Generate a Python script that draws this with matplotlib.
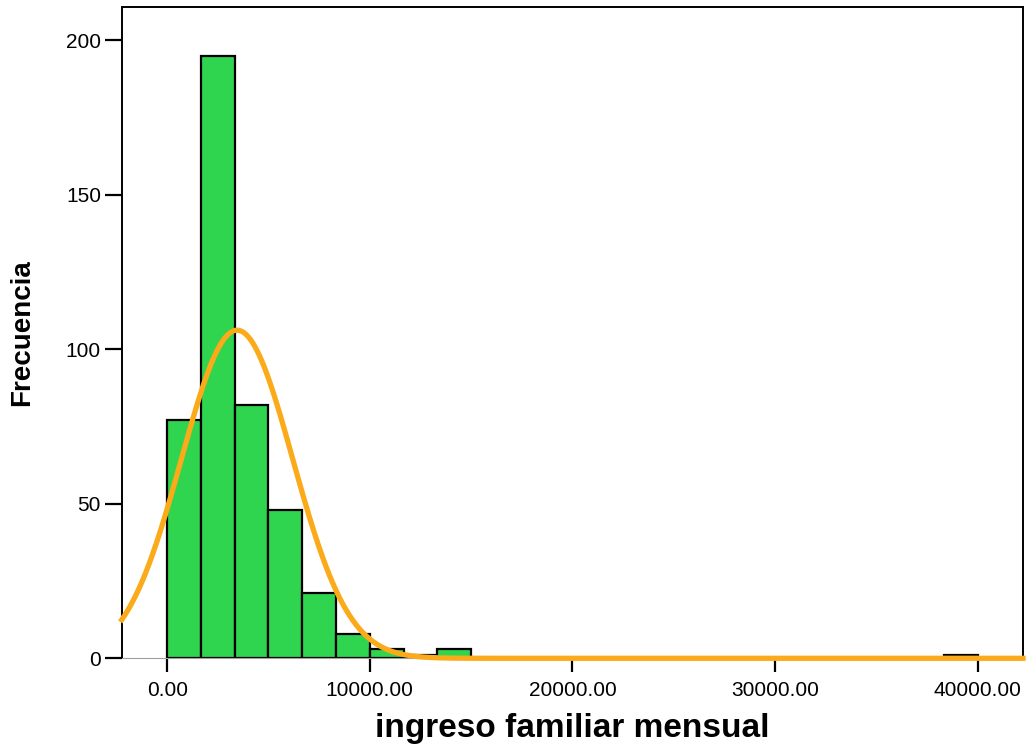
import numpy as np
import matplotlib
matplotlib.use("Agg")
import matplotlib.pyplot as plt

plt.rcParams['font.family'] = ['Liberation Sans', 'DejaVu Sans']

# histograma: 24 clases de ancho 10000/6 entre 0 y 40000
ancho_clase = 10000 / 6
frecuencias = [77, 195, 82, 48, 21, 8, 3, 1, 3, 0, 0, 0,
               0, 0, 0, 0, 0, 0, 0, 0, 0, 0, 0, 1]

# curva normal superpuesta (media y desviacion)
media = 3450
desviacion = 2750

ticks_x = [0, 10000, 20000, 30000, 40000]
etiquetas_x = ['0.00', '10000.00', '20000.00', '30000.00', '40000.00']
ticks_y = [0, 50, 100, 150, 200]

verde = '#2fd44f'
naranja = '#fbaa19'

fig = plt.figure(figsize=(10.3, 7.44), dpi=100)
ax = fig.add_axes([0.1182, 0.1152, 0.8750, 0.8758])

izq = [i * ancho_clase for i, f in enumerate(frecuencias) if f > 0]
alt = [f for f in frecuencias if f > 0]
ax.bar(izq, alt, width=ancho_clase, align='edge', color=verde,
       edgecolor='black', linewidth=1.6, zorder=2)

xmin, xmax = -2240, 42230
xs = np.linspace(xmin, xmax, 800)
n = sum(frecuencias)
ys = n * ancho_clase / (desviacion * np.sqrt(2 * np.pi)) * \
    np.exp(-0.5 * ((xs - media) / desviacion) ** 2)
ax.plot(xs, ys, color=naranja, linewidth=3.8, zorder=3, clip_on=False)

ax.set_xlim(xmin, xmax)
ax.set_ylim(0, 210.8)

ax.set_xticks(ticks_x)
ax.set_xticklabels(etiquetas_x)
ax.set_yticks(ticks_y)

ax.tick_params(axis='x', direction='out', length=10, width=1.6,
               labelsize=15, pad=6)
ax.tick_params(axis='y', direction='out', length=12, width=1.6,
               labelsize=15, pad=3)

for lado in ['left', 'top', 'right']:
    ax.spines[lado].set_linewidth(1.4)
ax.spines['bottom'].set_color('#a0a0a0')
ax.spines['bottom'].set_linewidth(0.8)

ax.set_xlabel('ingreso familiar mensual', fontsize=24, fontweight='bold',
              labelpad=10)
ax.set_ylabel('Frecuencia', fontsize=20, fontweight='bold', labelpad=22)

fig.savefig('out.png', dpi=100)
